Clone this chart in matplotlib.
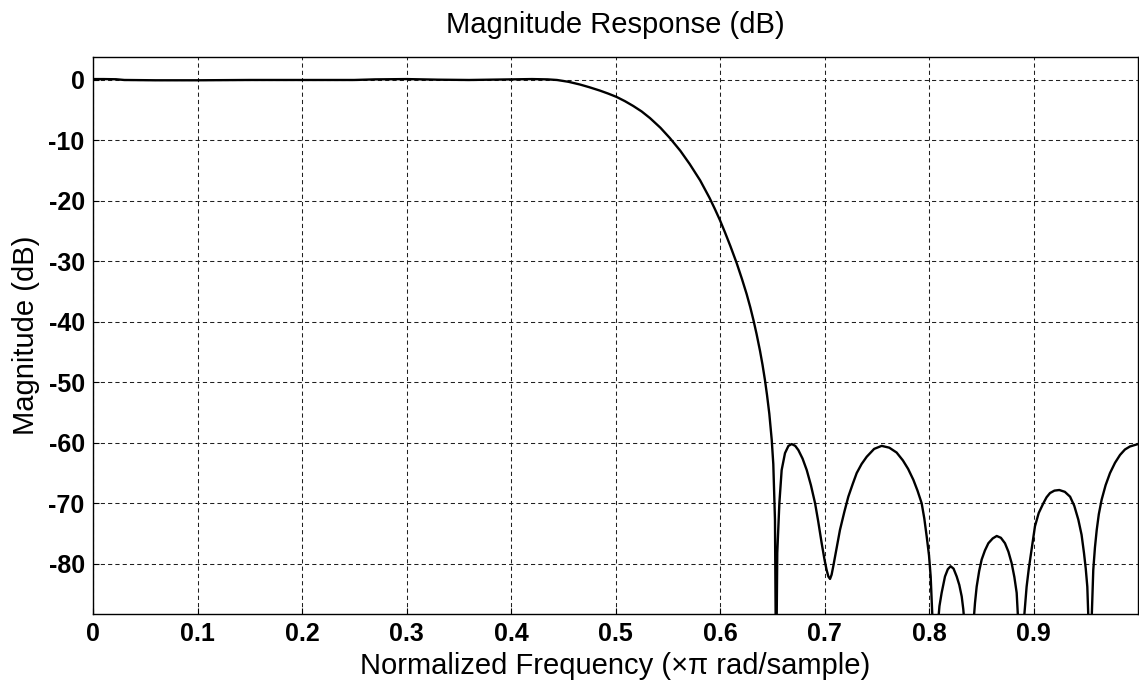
import matplotlib
matplotlib.use("Agg")
import matplotlib.pyplot as plt

plt.rcParams["font.family"] = ["Liberation Sans", "DejaVu Sans"]

# Magnitude response (normalised frequency, dB).
# Nulls fall below the visible range; they are given as -100 dB.
freq = [
    0.000, 0.010, 0.022, 0.030, 0.060, 0.100, 0.150, 0.200, 0.250, 0.270,
    0.300, 0.330, 0.360, 0.400, 0.420, 0.435, 0.444, 0.455, 0.466, 0.475,
    0.485, 0.493, 0.501, 0.509, 0.517, 0.525, 0.533, 0.543, 0.552, 0.562,
    0.571, 0.581, 0.590, 0.595, 0.600, 0.605, 0.610, 0.616, 0.621, 0.6255,
    0.629, 0.632, 0.635, 0.6383, 0.6407, 0.643, 0.645, 0.6472, 0.6495,
    0.651, 0.6526, 0.6537,
    # first stopband lobe and the shallow dip at 0.7
    0.6548, 0.6568, 0.659, 0.6622, 0.6655, 0.6686, 0.672, 0.675, 0.679,
    0.683, 0.687, 0.691, 0.694, 0.6973, 0.700, 0.702, 0.7037, 0.7053,
    0.7068, 0.7084, 0.7115, 0.7148, 0.719, 0.7228, 0.727, 0.7308, 0.7355,
    0.7404, 0.7475, 0.7547, 0.762, 0.769, 0.775, 0.780, 0.785, 0.789,
    0.793, 0.7955, 0.7978, 0.800, 0.8016, 0.8035, 0.806,
    # small lobe
    0.8085, 0.810, 0.8121, 0.8153, 0.818, 0.8207, 0.8235, 0.8265, 0.829,
    0.8313, 0.8328, 0.834, 0.838,
    # lobe around 0.865
    0.8425, 0.844, 0.8456, 0.848, 0.8504, 0.8535, 0.8568, 0.861, 0.8648,
    0.8688, 0.8727, 0.876, 0.8791, 0.8817, 0.8839, 0.8855, 0.888,
    # lobe around 0.925
    0.8905, 0.8934, 0.8955, 0.8982, 0.9014, 0.905, 0.9094, 0.9125, 0.9158,
    0.920, 0.9247, 0.930, 0.935, 0.939, 0.9429, 0.946, 0.9483, 0.950,
    0.9515, 0.9527, 0.954,
    # last rising lobe
    0.9555, 0.9572, 0.9588, 0.9605, 0.9625, 0.9652, 0.969, 0.9732, 0.978,
    0.9828, 0.9875, 0.9923, 1.000,
]
mag_db = [
    0.15, 0.15, 0.12, 0.0, -0.05, -0.05, 0.0, 0.0, 0.0, 0.1,
    0.15, 0.05, 0.0, 0.1, 0.15, 0.1, 0.0, -0.3, -0.75, -1.2,
    -1.75, -2.25, -2.8, -3.5, -4.3, -5.2, -6.3, -7.9, -9.6, -11.7,
    -13.9, -16.6, -19.5, -21.3, -23.2, -25.3, -27.5, -30.3, -32.9, -35.4,
    -37.6, -39.7, -42.0, -44.8, -47.1, -49.6, -52.1, -55.2, -59.5,
    -63.5, -72.7, -100.0,
    -78.2, -70.0, -64.5, -61.7, -60.5, -60.2, -60.5, -61.2, -62.6,
    -64.5, -67.0, -70.0, -73.0, -76.6, -79.3, -81.0, -82.1, -82.5,
    -81.8, -80.4, -77.5, -74.4, -71.4, -68.9, -66.8, -65.0, -63.5,
    -62.3, -61.0, -60.5, -60.8, -61.6, -62.9, -64.3, -66.1, -67.9,
    -70.0, -72.5, -75.5, -78.6, -82.1, -90.0, -100.0,
    -90.0, -87.0, -84.8, -82.1, -80.9, -80.4, -80.8, -82.1, -83.5,
    -85.4, -87.5, -90.0, -100.0,
    -90.0, -86.5, -83.8, -81.2, -79.3, -77.8, -76.6, -75.8, -75.4,
    -75.7, -76.6, -78.0, -79.9, -82.2, -84.8, -90.0, -100.0,
    -90.0, -83.8, -80.8, -77.6, -73.8, -71.6, -70.0, -69.0, -68.3,
    -67.9, -67.8, -68.1, -68.9, -70.4, -72.7, -75.2, -78.2, -80.8,
    -83.8, -90.0, -100.0,
    -90.0, -81.0, -77.3, -74.4, -71.8, -69.4, -67.0, -65.0, -63.3,
    -62.0, -61.1, -60.6, -60.2,
]

x_ticks = [0, 0.1, 0.2, 0.3, 0.4, 0.5, 0.6, 0.7, 0.8, 0.9]
x_tick_labels = ["0", "0.1", "0.2", "0.3", "0.4", "0.5", "0.6", "0.7", "0.8", "0.9"]
y_ticks = [0, -10, -20, -30, -40, -50, -60, -70, -80]
y_tick_labels = ["0", "-10", "-20", "-30", "-40", "-50", "-60", "-70", "-80"]

fig = plt.figure(figsize=(11.39, 6.82), dpi=100)
ax = fig.add_axes([93 / 1139, 68 / 682, 1045 / 1139, 557 / 682])

ax.plot(freq, mag_db, color="black", lw=1.7, solid_joinstyle="round")

ax.set_xlim(0, 1)
ax.set_ylim(-88.3, 3.8)
ax.set_xticks(x_ticks)
ax.set_xticklabels(x_tick_labels, fontsize=18, fontweight="bold")
ax.set_yticks(y_ticks)
ax.set_yticklabels(y_tick_labels, fontsize=18, fontweight="bold")
ax.tick_params(direction="in", length=4, width=0.8, pad=6)

ax.grid(True, color="#202020", lw=0.75, linestyle=(0, (4, 3)))
ax.set_axisbelow(True)
for side in ax.spines.values():
    side.set_linewidth(1.0)
    side.set_color("black")

ax.set_title("Magnitude Response (dB)", fontsize=21, pad=17)
ax.set_xlabel("Normalized Frequency (\u00d7\u03c0 rad/sample)", fontsize=21,
              labelpad=4)
ax.set_ylabel("Magnitude (dB)", fontsize=21, labelpad=6)

fig.savefig("out.png", dpi=100)
